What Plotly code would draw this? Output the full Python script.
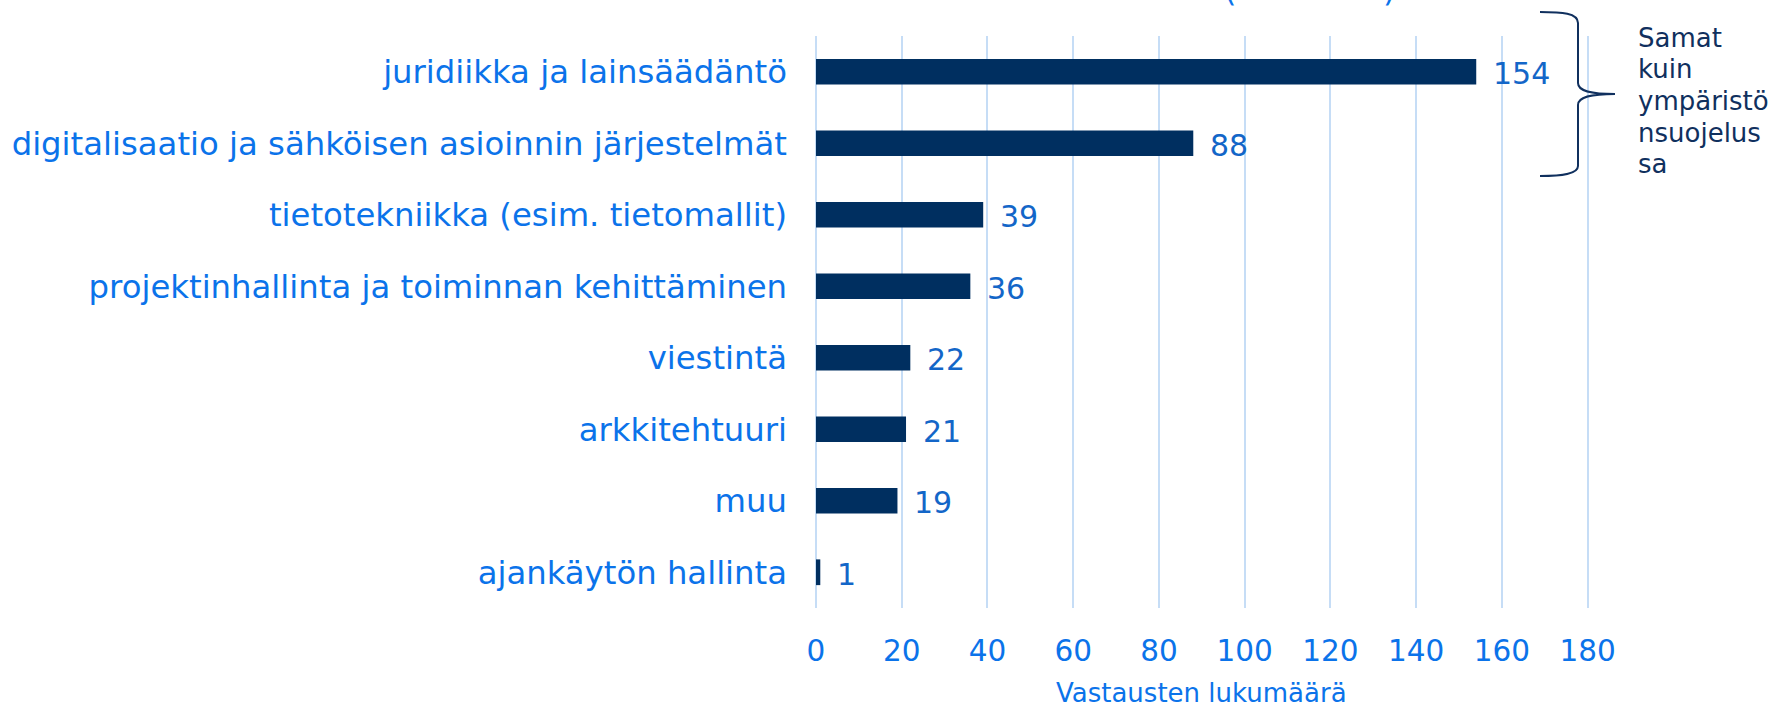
import plotly.graph_objects as go

categories = [
    "juridiikka ja lainsäädäntö",
    "digitalisaatio ja sähköisen asioinnin järjestelmät",
    "tietotekniikka (esim. tietomallit)",
    "projektinhallinta ja toiminnan kehittäminen",
    "viestintä",
    "arkkitehtuuri",
    "muu",
    "ajankäytön hallinta",
]
values = [154, 88, 39, 36, 22, 21, 19, 1]
x_ticks = [0, 20, 40, 60, 80, 100, 120, 140, 160, 180]
x_title = "Vastausten lukumäärä"
note_lines = ["Samat", "kuin", "ympäristö", "nsuojelus", "sa"]

W, H = 1773, 705
XMAX = 181
UNIT = (1587.5 - 816) / 180
L, T, B = 816, 36, 97
PW = round(XMAX * UNIT)
R = W - L - PW
PH = H - T - B

def px(x):
    return (x - L) / PW

def py(y):
    return (T + PH - y) / PH

FONT = "DejaVu Sans"
BAR = "#002F60"
TICK = "#0B73EA"
LABEL = "#1366C8"
NAVY = "#10305E"
GRID = "#C6DDF6"

fig = go.Figure()
fig.add_trace(go.Bar(
    x=values, y=categories, orientation="h",
    width=0.36,
    marker=dict(color=BAR, line=dict(width=0)),
    hoverinfo="x+y",
))

annotations = []
for c, v in zip(categories, values):
    annotations.append(dict(
        x=v, y=c, xref="x", yref="y", text=str(v), showarrow=False,
        xanchor="left", yanchor="middle", xshift=15, yshift=-2,
        font=dict(family=FONT, size=30, color=LABEL),
    ))

annotations.append(dict(
    x=px((816 + 1587.5) / 2), y=py(693), xref="paper", yref="paper", text=x_title,
    showarrow=False, xanchor="center", yanchor="middle",
    font=dict(family=FONT, size=26, color=TICK),
))

line_y = [38, 69.5, 101, 132.5, 164]
for t, yy in zip(note_lines, line_y):
    annotations.append(dict(
        x=px(1636), y=py(yy), xref="paper", yref="paper", text=t,
        showarrow=False, xanchor="left", yanchor="middle",
        font=dict(family=FONT, size=26, color=NAVY),
    ))

# cut-off title fragments at the top
for ch, xx in (("(", 1230), (")", 1389)):
    annotations.append(dict(
        x=px(xx), y=py(-10), xref="paper", yref="paper", text=ch,
        showarrow=False, xanchor="center", yanchor="middle",
        font=dict(family=FONT, size=32, color=TICK),
    ))

def P(x, y):
    return f"{px(x):.5f},{py(y):.5f}"

brace = (
    f"M {P(1540,12)} C {P(1562,12)} {P(1578,13)} {P(1578,23)} "
    f"L {P(1578,83)} C {P(1578,91)} {P(1590,94)} {P(1615,94)} "
    f"M {P(1615,94)} C {P(1590,94)} {P(1578,97)} {P(1578,105)} "
    f"L {P(1578,166)} C {P(1578,174)} {P(1562,176)} {P(1540,176)}"
)

fig.update_layout(
    width=W, height=H,
    margin=dict(l=L, r=R, t=T, b=B, pad=0),
    paper_bgcolor="white", plot_bgcolor="white",
    showlegend=False,
    bargap=0.64,
    annotations=annotations,
    shapes=[dict(type="path", path=brace, xref="paper", yref="paper",
                 line=dict(color=NAVY, width=2))],
    xaxis=dict(
        range=[0, XMAX], tickvals=x_ticks, ticktext=[str(t) for t in x_ticks],
        showgrid=True, gridcolor=GRID, gridwidth=2,
        zeroline=True, zerolinecolor=GRID, zerolinewidth=2,
        showline=False, ticks="",
        tickfont=dict(family=FONT, size=29.5, color=TICK),
        ticklabelstandoff=22,
        fixedrange=True,
    ),
    yaxis=dict(
        categoryorder="array", categoryarray=categories,
        range=[7.5, -0.5],
        showgrid=False, zeroline=False, showline=False, ticks="",
        tickfont=dict(family=FONT, size=32.3, color=TICK),
        ticklabelstandoff=28,
        fixedrange=True,
    ),
)

fig.write_html(
    "out.html",
    config={"displayModeBar": False},
    post_script="document.body.style.margin='0';document.body.style.padding='0';document.body.style.overflow='hidden';",
)
